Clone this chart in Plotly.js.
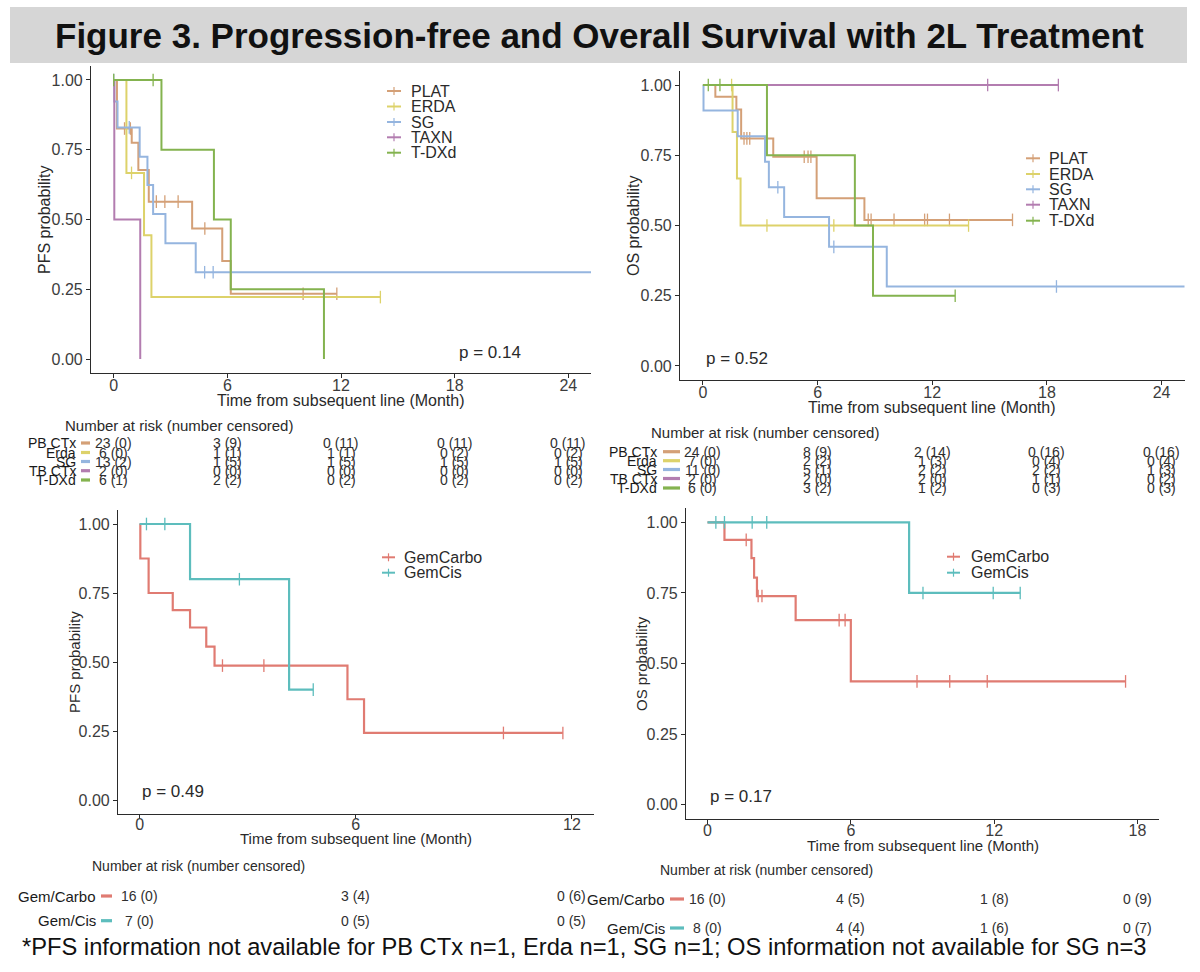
<!DOCTYPE html>
<html>
<head>
<meta charset="utf-8">
<script src="https://cdn.plot.ly/plotly-3.0.1.min.js"></script>
<style>
  html, body { margin: 0; padding: 0; background: #ffffff; }
  #fig { width: 1200px; height: 972px; }
</style>
</head>
<body>
<div id="fig"></div>
<script>
// ---------- groups ----------
const groupNames = ['PLAT', 'ERDA', 'SG', 'TAXN', 'T-DXd'];
const riskNames  = ['PB CTx', 'Erda', 'SG', 'TB CTx', 'T-DXd'];
const groupColors = ['#D4A077', '#DDD26A', '#95B5DF', '#B37DB0', '#84B34F'];
const gemNames = ['GemCarbo', 'GemCis'];
const gemRiskNames = ['Gem/Carbo', 'Gem/Cis'];
const gemColors = ['#E07B72', '#5DBDBD'];

// ---------- PFS by subsequent-line regimen (step times / survival / censor times) ----------
const pfsPlatTime = [0, 0.17, 0.95, 1.3, 1.85, 4.14, 5.73, 6.18, 11.78];
const pfsPlatSurv = [1, 0.826, 0.775, 0.677, 0.564, 0.468, 0.351, 0.234, 0.234];
const pfsPlatCens = [0.57, 0.88, 2.25, 2.7, 3.4, 4.81, 10.0, 11.78];

const pfsErdaTime = [0, 0.67, 1.6, 1.99, 14.08];
const pfsErdaSurv = [1, 0.667, 0.444, 0.222, 0.222];
const pfsErdaCens = [0.94, 14.08];

const pfsSgTime = [0, 0.03, 0.2, 1.37, 1.78, 2.08, 2.73, 4.33, 26];
const pfsSgSurv = [1, 0.923, 0.83, 0.725, 0.624, 0.52, 0.415, 0.311, 0.311];
const pfsSgCens = [0, 0.82, 4.8, 5.25];

const pfsTaxnTime = [0, 0.03, 1.4];
const pfsTaxnSurv = [1, 0.5, 0];
const pfsTaxnCens = [];

const pfsTdxdTime = [0, 2.52, 5.29, 6.18, 11.1];
const pfsTdxdSurv = [1, 0.75, 0.5, 0.25, 0];
const pfsTdxdCens = [0, 2.08];

// ---------- OS by subsequent-line regimen ----------
const osPlatTime = [0, 0.65, 1.75, 2.0, 3.68, 5.95, 8.45, 16.2];
const osPlatSurv = [1, 0.958, 0.913, 0.81, 0.745, 0.597, 0.52, 0.52];
const osPlatCens = [2.15, 2.3, 2.45, 5.3, 5.5, 5.65, 8.65, 8.8, 10.0, 11.6, 11.75, 12.9, 16.2];

const osErdaTime = [0, 1.55, 1.78, 1.97, 13.9];
const osErdaSurv = [1, 0.833, 0.667, 0.5, 0.5];
const osErdaCens = [1.5, 3.35, 6.85, 13.9];

const osSgTime = [0, 0.03, 1.82, 3.25, 3.45, 4.25, 6.6, 9.62, 26];
const osSgSurv = [1, 0.909, 0.818, 0.727, 0.636, 0.53, 0.424, 0.283, 0.283];
const osSgCens = [3.92, 6.85, 18.5];

const osTaxnTime = [0, 18.6];
const osTaxnSurv = [1, 1];
const osTaxnCens = [14.9, 18.6];

const osTdxdTime = [0, 3.35, 7.95, 8.9, 13.2];
const osTdxdSurv = [1, 0.75, 0.5, 0.25, 0.25];
const osTdxdCens = [0.28, 0.89, 13.2];

// ---------- Gemcitabine doublets ----------
const gemPfsCarboTime = [0, 0.02, 0.25, 0.92, 1.4, 1.85, 2.08, 5.77, 6.23, 11.75];
const gemPfsCarboSurv = [1, 0.875, 0.75, 0.688, 0.625, 0.556, 0.487, 0.365, 0.243, 0.243];
const gemPfsCarboCens = [2.3, 3.45, 10.1, 11.75];

const gemPfsCisTime = [0, 1.4, 4.15, 4.82];
const gemPfsCisSurv = [1, 0.8, 0.4, 0.4];
const gemPfsCisCens = [0.19, 0.7, 2.77, 4.82];

const gemOsCarboTime = [0, 0.71, 1.84, 1.95, 2.07, 3.69, 6.0, 17.5];
const gemOsCarboSurv = [1, 0.938, 0.873, 0.804, 0.739, 0.654, 0.437, 0.437];
const gemOsCarboCens = [1.62, 2.12, 2.28, 5.51, 5.76, 8.77, 10.14, 11.71, 17.5];

const gemOsCisTime = [0, 8.44, 13.09];
const gemOsCisSurv = [1, 0.75, 0.75];
const gemOsCisCens = [0.35, 0.71, 1.87, 2.48, 9.02, 11.96, 13.09];

// ---------- numbers at risk (number censored) ----------
const riskTimesTop = [0, 6, 12, 18, 24];
const pfsAtRisk  = [[23, 3, 0, 0, 0], [6, 1, 1, 0, 0], [13, 1, 1, 1, 1], [2, 0, 0, 0, 0], [6, 2, 0, 0, 0]];
const pfsCensored = [[0, 9, 11, 11, 11], [0, 1, 1, 2, 2], [2, 5, 5, 5, 5], [0, 0, 0, 0, 0], [1, 2, 2, 2, 2]];
const osAtRisk  = [[24, 8, 2, 0, 0], [7, 2, 1, 0, 0], [11, 5, 2, 2, 1], [2, 2, 2, 1, 0], [6, 3, 1, 0, 0]];
const osCensored = [[0, 9, 14, 16, 16], [0, 2, 3, 4, 4], [0, 1, 2, 2, 3], [0, 0, 0, 1, 2], [0, 2, 2, 3, 3]];

const gemPfsRiskTimes = [0, 6, 12];
const gemPfsAtRisk = [[16, 3, 0], [7, 0, 0]];
const gemPfsCensored = [[0, 4, 6], [0, 5, 5]];
const gemOsRiskTimes = [0, 6, 12, 18];
const gemOsAtRisk = [[16, 4, 1, 0], [8, 4, 1, 0]];
const gemOsCensored = [[0, 5, 8, 9], [0, 4, 6, 7]];

const pValues = ['0.14', '0.52', '0.49', '0.17'];

const titleText = 'Figure 3. Progression-free and Overall Survival with 2L Treatment';
const footnoteText = '*PFS information not available for PB CTx n=1, Erda n=1, SG n=1; OS information not available for SG n=3';

// ---------- helpers ----------
const W = 1200, H = 972;
const fx = p => p / W;
const fy = p => 1 - p / H;
const FONT = 'Liberation Sans, Arial, Helvetica, sans-serif';

function survAt(times, surv, t) {
  let s = surv[0];
  for (let i = 0; i < times.length; i++) if (times[i] <= t) s = surv[i];
  return s;
}

const traces = [];
function addCurve(times, surv, cens, color, ax, width) {
  traces.push({
    x: times, y: surv, type: 'scatter', mode: 'lines',
    line: { shape: 'hv', color: color, width: width },
    xaxis: 'x' + ax, yaxis: 'y' + ax, hoverinfo: 'skip', showlegend: false
  });
  if (cens.length) {
    traces.push({
      x: cens, y: cens.map(t => survAt(times, surv, t)), type: 'scatter', mode: 'markers',
      marker: { symbol: 'line-ns', size: 9, color: color, line: { width: 1.3, color: color } },
      xaxis: 'x' + ax, yaxis: 'y' + ax, hoverinfo: 'skip', showlegend: false, cliponaxis: false
    });
  }
}

const pfsSets = [
  [pfsPlatTime, pfsPlatSurv, pfsPlatCens], [pfsErdaTime, pfsErdaSurv, pfsErdaCens],
  [pfsSgTime, pfsSgSurv, pfsSgCens], [pfsTaxnTime, pfsTaxnSurv, pfsTaxnCens],
  [pfsTdxdTime, pfsTdxdSurv, pfsTdxdCens]
];
const osSets = [
  [osPlatTime, osPlatSurv, osPlatCens], [osErdaTime, osErdaSurv, osErdaCens],
  [osSgTime, osSgSurv, osSgCens], [osTaxnTime, osTaxnSurv, osTaxnCens],
  [osTdxdTime, osTdxdSurv, osTdxdCens]
];
pfsSets.forEach((d, i) => addCurve(d[0], d[1], d[2], groupColors[i], '', 2));
osSets.forEach((d, i) => addCurve(d[0], d[1], d[2], groupColors[i], '2', 2));
addCurve(gemPfsCarboTime, gemPfsCarboSurv, gemPfsCarboCens, gemColors[0], '3', 2.2);
addCurve(gemPfsCisTime, gemPfsCisSurv, gemPfsCisCens, gemColors[1], '3', 2.2);
addCurve(gemOsCarboTime, gemOsCarboSurv, gemOsCarboCens, gemColors[0], '4', 2.2);
addCurve(gemOsCisTime, gemOsCisSurv, gemOsCisCens, gemColors[1], '4', 2.2);

// ---------- axes ----------
function xAxis(dom, range, ticks, anchor, standoff) {
  return {
    domain: dom, range: range, anchor: anchor, tickvals: ticks,
    showline: true, linecolor: '#2b2b2b', linewidth: 1.1, mirror: false,
    ticks: 'outside', ticklen: 4, tickwidth: 1, tickcolor: '#2b2b2b',
    ticklabelstandoff: standoff,
    tickfont: { family: FONT, size: 16, color: '#3c3c3c' },
    showgrid: false, zeroline: false, fixedrange: true
  };
}
function yAxis(dom, anchor) {
  return {
    domain: dom, range: [-0.05, 1.05], anchor: anchor,
    tickvals: [0, 0.25, 0.5, 0.75, 1], tickformat: '.2f',
    showline: true, linecolor: '#2b2b2b', linewidth: 1.1,
    ticks: 'outside', ticklen: 4, tickwidth: 1, tickcolor: '#2b2b2b',
    tickfont: { family: FONT, size: 16, color: '#3c3c3c' },
    showgrid: false, zeroline: false, fixedrange: true
  };
}

const annotations = [];
const shapes = [];
function text(x, y, str, opts) {
  annotations.push(Object.assign({
    x: x, y: y, xref: 'paper', yref: 'paper', text: str, showarrow: false,
    xanchor: 'center', yanchor: 'middle',
    font: { family: FONT, size: 15, color: '#2a2a2a' }
  }, opts || {}));
}

// title band
shapes.push({ type: 'rect', xref: 'paper', yref: 'paper', x0: fx(10), x1: fx(1187), y0: fy(63), y1: fy(7),
  fillcolor: '#D6D6D6', line: { width: 0 }, layer: 'below' });
text(fx(599), fy(36), '<b>' + titleText + '</b>', { font: { family: FONT, size: 35, color: '#111111' } });

// axis titles
const xTitle = 'Time from subsequent line (Month)';
text(fx(341), fy(400), xTitle, { font: { family: FONT, size: 16, color: '#2a2a2a' } });
text(fx(932), fy(407), xTitle, { font: { family: FONT, size: 16, color: '#2a2a2a' } });
text(fx(356), fy(838), xTitle, { font: { family: FONT, size: 15, color: '#2a2a2a' } });
text(fx(923), fy(845), xTitle, { font: { family: FONT, size: 15, color: '#2a2a2a' } });
text(fx(45), fy(220), 'PFS probability', { textangle: -90, font: { family: FONT, size: 16, color: '#2a2a2a' } });
text(fx(633), fy(226), 'OS probability', { textangle: -90, font: { family: FONT, size: 16, color: '#2a2a2a' } });
text(fx(74), fy(662), 'PFS probability', { textangle: -90, font: { family: FONT, size: 15, color: '#2a2a2a' } });
text(fx(641), fy(664), 'OS probability', { textangle: -90, font: { family: FONT, size: 15, color: '#2a2a2a' } });

// p-values, placed in data coordinates
[['x', 'y', 18.1, 0.025], ['x2', 'y2', 0.06, 0.028], ['x3', 'y3', 0.02, 0.03], ['x4', 'y4', 0.02, 0.028]]
  .forEach((p, i) => {
    annotations.push({ xref: p[0], yref: p[1], x: p[2], y: p[3], text: 'p = ' + pValues[i], showarrow: false,
      xanchor: 'left', yanchor: 'middle', font: { family: FONT, size: 17, color: '#2a2a2a' } });
  });

// legends: key line with a censor tick, then label
function legend(names, colors, keyX0, keyX1, textX, rowsY, size) {
  names.forEach((n, i) => {
    const y = rowsY[i];
    shapes.push({ type: 'line', xref: 'paper', yref: 'paper', x0: fx(keyX0), x1: fx(keyX1), y0: fy(y), y1: fy(y),
      line: { color: colors[i], width: 2 } });
    const mid = (keyX0 + keyX1) / 2;
    shapes.push({ type: 'line', xref: 'paper', yref: 'paper', x0: fx(mid), x1: fx(mid), y0: fy(y - 4), y1: fy(y + 4),
      line: { color: colors[i], width: 1.2 } });
    text(fx(textX), fy(y), n, { xanchor: 'left', font: { family: FONT, size: size, color: '#2a2a2a' } });
  });
}
legend(groupNames, groupColors, 387, 401, 409, [91, 106.5, 122, 137.3, 152.7], 16);
legend(groupNames, groupColors, 1026, 1040, 1047, [158.3, 174, 189.3, 204.7, 220.7], 16);
legend(gemNames, gemColors, 382, 395, 402, [557.3, 572.7], 16);
legend(gemNames, gemColors, 947, 960, 969, [556.7, 572.7], 16);

// risk tables: values centred on the time ticks of the panel above
function riskTable(xref, times, labels, colors, atRisk, cens, headX, headY, rowsY, labelRight, dash0, dash1, headSize, labelSize, valSize) {
  text(fx(headX), fy(headY), 'Number at risk (number censored)',
    { xanchor: 'left', font: { family: FONT, size: headSize, color: '#2a2a2a' } });
  labels.forEach((lab, i) => {
    const y = rowsY[i];
    text(fx(labelRight), fy(y), lab, { xanchor: 'right', font: { family: FONT, size: labelSize, color: '#1a1a1a' } });
    shapes.push({ type: 'line', xref: 'paper', yref: 'paper', x0: fx(dash0), x1: fx(dash1), y0: fy(y), y1: fy(y),
      line: { color: colors[i], width: 3.2 } });
    times.forEach((t, j) => {
      annotations.push({ xref: xref, yref: 'paper', x: t, y: fy(y), text: atRisk[i][j] + ' (' + cens[i][j] + ')',
        showarrow: false, xanchor: 'center', yanchor: 'middle',
        font: { family: FONT, size: valSize, color: '#2f2f2f' } });
    });
  });
}
riskTable('x', riskTimesTop, riskNames, groupColors, pfsAtRisk, pfsCensored,
  63, 425, [443, 452.5, 461.5, 470.7, 480], 78, 81, 90, 15, 14, 14);
riskTable('x2', riskTimesTop, riskNames, groupColors, osAtRisk, osCensored,
  649, 432.7, [451.7, 460.7, 469.5, 478.5, 488], 659, 663, 680, 15, 14, 14);
riskTable('x3', gemPfsRiskTimes, gemRiskNames, gemColors, gemPfsAtRisk, gemPfsCensored,
  90, 866, [896, 920.7], 98, 101, 112, 14, 15, 14);
riskTable('x4', gemOsRiskTimes, gemRiskNames, gemColors, gemOsAtRisk, gemOsCensored,
  658, 870, [899, 928], 667, 670, 684, 14, 15, 14);

// footnote
text(fx(20), fy(947), footnoteText, { xanchor: 'left', font: { family: FONT, size: 23.7, color: '#111111' } });

const layout = {
  width: W, height: H, margin: { l: 0, r: 0, t: 0, b: 0 },
  paper_bgcolor: '#ffffff', plot_bgcolor: '#ffffff', showlegend: false,
  xaxis:  xAxis([fx(91), fx(591)], [-1.2, 25.2], [0, 6, 12, 18, 24], 'y', -6),
  yaxis:  yAxis([fy(373), fy(66)], 'x'),
  xaxis2: xAxis([fx(680), fx(1184.5)], [-1.2, 25.2], [0, 6, 12, 18, 24], 'y2', -6),
  yaxis2: yAxis([fy(380), fy(71)], 'x2'),
  xaxis3: xAxis([fx(118), fx(593.5)], [-0.6, 12.6], [0, 6, 12], 'y3', -8),
  yaxis3: yAxis([fy(813.8), fy(510.2)], 'x3'),
  xaxis4: xAxis([fx(686), fx(1159)], [-0.9, 18.9], [0, 6, 12, 18], 'y4', -7),
  yaxis4: yAxis([fy(819), fy(508.2)], 'x4'),
  annotations: annotations,
  shapes: shapes
};

Plotly.newPlot('fig', traces, layout, { staticPlot: true, displayModeBar: false });
</script>
</body>
</html>
